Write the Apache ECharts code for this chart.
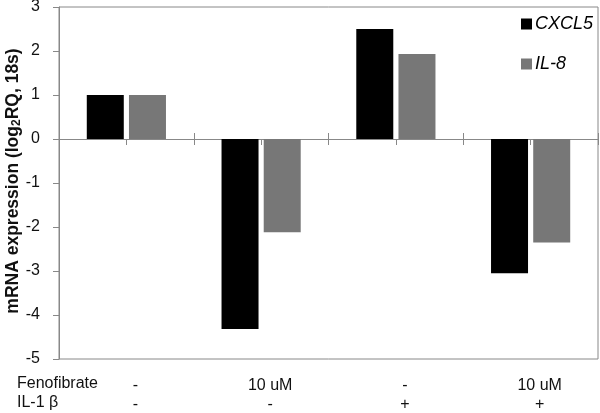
<!DOCTYPE html>
<html>
<head>
<meta charset="utf-8">
<script src="https://cdn.jsdelivr.net/npm/echarts@6/dist/echarts.min.js"></script>
<style>html,body{margin:0;padding:0;background:#fff}#c{width:600px;height:413px}</style>
</head>
<body>
<div id="c"></div>
<script>
var categories = ['g1', 'g2', 'g3', 'g4'];
var fenofibrate = ['-', '10 uM', '-', '10 uM'];
var il1b = ['-', '-', '+', '+'];
var rowLabels = ['Fenofibrate', 'IL-1 β'];
var cxcl5 = [1.0, -4.32, 2.5, -3.05];
var il8 = [1.0, -2.12, 1.93, -2.35];
var seriesNames = ['CXCL5', 'IL-8'];
var yTitle = ['mRNA expression (log', '2', 'RQ, 18s)'];

var axisColor = '#888';
var font = 'Liberation Sans, Arial, sans-serif';
var chart = echarts.init(document.getElementById('c'), null, {renderer: 'canvas'});

function tickAxis(opts) {
  return Object.assign({
    type: 'category', data: categories, gridIndex: 0, position: 'bottom',
    axisLine: {show: true, onZero: true, onZeroAxisIndex: 0, lineStyle: {color: axisColor, width: 1}},
    axisLabel: {show: false}, splitLine: {show: false}
  }, opts);
}

var bottomLabels = categories.map(function (c, i) { return fenofibrate[i] + '\n' + il1b[i]; });

chart.setOption({
  animation: false,
  textStyle: {fontFamily: font},
  grid: {left: 59, right: 2, top: 7, bottom: 54, show: true, borderColor: axisColor, borderWidth: 1,
         containLabel: false, outerBoundsMode: 'none'},
  legend: {
    orient: 'vertical', left: 516, top: 10, itemGap: 22, itemWidth: 11, itemHeight: 11,
    icon: 'rect', data: seriesNames,
    textStyle: {fontSize: 18, fontStyle: 'italic', color: '#000', fontFamily: font, padding: [0, 0, 0, -2]}
  },
  xAxis: [
    tickAxis({axisTick: {show: true, length: 6, inside: false, lineStyle: {color: axisColor}}}),
    tickAxis({axisTick: {show: true, length: 6, inside: true, lineStyle: {color: axisColor}}}),
    tickAxis({axisTick: {show: true, length: 6, inside: false, alignWithLabel: true, lineStyle: {color: axisColor}}}),
    {
      type: 'category', data: categories, gridIndex: 0, position: 'bottom',
      axisLine: {show: false, onZero: false}, axisTick: {show: false}, splitLine: {show: false},
      axisLabel: {
        show: true, interval: 0, margin: 17, fontSize: 16, lineHeight: 19, color: '#111',
        fontFamily: font, padding: [0, 0, 0, 18],
        formatter: function (v, i) { return bottomLabels[i]; }
      }
    }
  ],
  yAxis: {
    type: 'value', min: -5, max: 3, interval: 1,
    axisLine: {show: true, lineStyle: {color: axisColor, width: 1}},
    axisTick: {show: true, length: 6, lineStyle: {color: axisColor}},
    splitLine: {show: false},
    axisLabel: {fontSize: 16, color: '#111', margin: 19, fontFamily: font}
  },
  graphic: [
    {type: 'text', left: 17, top: 376, style: {text: rowLabels[0], font: '16px ' + font, fill: '#111'}},
    {type: 'text', left: 17, top: 395, style: {text: rowLabels[1], font: '16px ' + font, fill: '#111'}},
    {type: 'text', x: 13, y: 181, rotation: Math.PI / 2,
     style: {
       text: '{a|' + yTitle[0] + '}{s|' + yTitle[1] + '}{a|' + yTitle[2] + '}',
       align: 'center', verticalAlign: 'middle',
       rich: {
         a: {fontSize: 17.5, fontWeight: 'bold', fill: '#111', fontFamily: font},
         s: {fontSize: 12, fontWeight: 'bold', fill: '#111', fontFamily: font, verticalAlign: 'bottom', padding: [8, 0, 0, 0]}
       }
     }}
  ],
  series: [
    {name: seriesNames[0], type: 'bar', xAxisIndex: 0, data: cxcl5, barWidth: 37, barGap: '14%',
     itemStyle: {color: '#000'}},
    {name: seriesNames[1], type: 'bar', xAxisIndex: 0, data: il8, barWidth: 37, barGap: '14%',
     itemStyle: {color: '#777'}}
  ]
});
</script>
</body>
</html>
